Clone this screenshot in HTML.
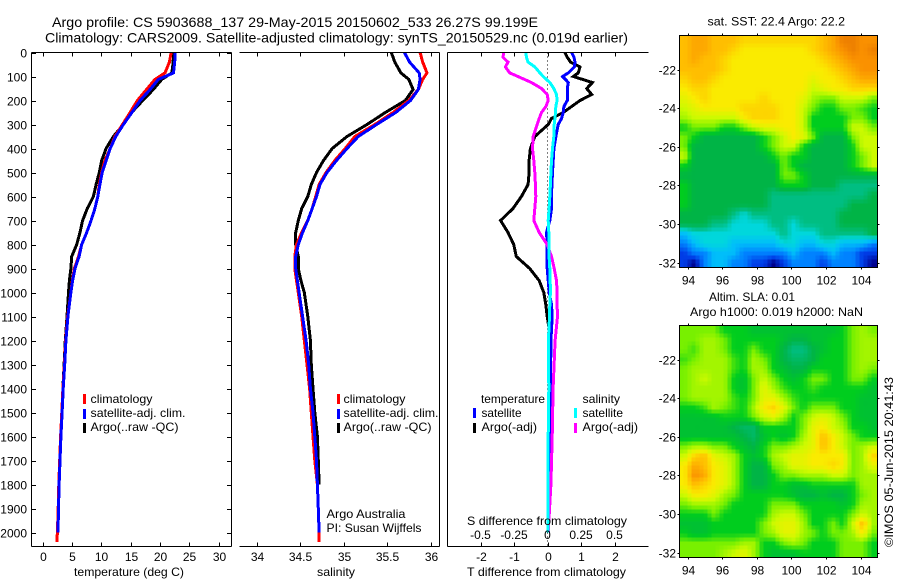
<!DOCTYPE html>
<html lang="en">
<head>
<meta charset="utf-8">
<title>Argo profile</title>
<style>
html,body{margin:0;padding:0;background:#fff;}
svg{display:block;}
text{font-family:"Liberation Sans",sans-serif;font-size:12px;fill:#000;}
.title{font-size:14px;}
</style>
</head>
<body>
<svg id="fig" xmlns="http://www.w3.org/2000/svg" width="900" height="580" viewBox="0 0 900 580">
<rect x="0" y="0" width="900" height="580" fill="#fff"/>
<g id="layer-maps"></g>
<g id="layer-plots"></g>
<text class="title" x="52" y="27" textLength="486" lengthAdjust="spacingAndGlyphs">Argo profile: CS 5903688_137 29-May-2015 20150602_533 26.27S 99.199E</text>
<text class="title" x="45" y="42.5" textLength="583" lengthAdjust="spacingAndGlyphs">Climatology: CARS2009. Satellite-adjusted climatology: synTS_20150529.nc (0.019d earlier)</text>
<text x="74" y="576" textLength="110" lengthAdjust="spacingAndGlyphs">temperature (deg C)</text>
<text x="317" y="576" textLength="38" lengthAdjust="spacingAndGlyphs">salinity</text>
<text x="467" y="576" textLength="159" lengthAdjust="spacingAndGlyphs">T difference from climatology</text>
<text x="467" y="525" textLength="160" lengthAdjust="spacingAndGlyphs">S difference from climatology</text>

<g>
<rect x="83" y="394" width="3" height="10" fill="#f00"/>
<rect x="83" y="409" width="3" height="10" fill="#00f"/>
<rect x="83" y="423" width="3" height="10" fill="#000"/>
<text x="90.5" y="403" textLength="62" lengthAdjust="spacingAndGlyphs">climatology</text>
<text x="90.5" y="417" textLength="95" lengthAdjust="spacingAndGlyphs">satellite-adj. clim.</text>
<text x="90.5" y="431" textLength="88" lengthAdjust="spacingAndGlyphs">Argo(..raw -QC)</text>
</g>
<g>
<rect x="337" y="394" width="3" height="10" fill="#f00"/>
<rect x="337" y="409" width="3" height="10" fill="#00f"/>
<rect x="337" y="423" width="3" height="10" fill="#000"/>
<text x="343.5" y="403" textLength="62" lengthAdjust="spacingAndGlyphs">climatology</text>
<text x="343.5" y="417" textLength="95" lengthAdjust="spacingAndGlyphs">satellite-adj. clim.</text>
<text x="343.5" y="431" textLength="88" lengthAdjust="spacingAndGlyphs">Argo(..raw -QC)</text>
</g>
<text x="326.5" y="518" textLength="79" lengthAdjust="spacingAndGlyphs">Argo Australia</text>
<text x="326.5" y="532" textLength="95" lengthAdjust="spacingAndGlyphs">PI: Susan Wijffels</text>

<g>
<text x="481" y="403" textLength="64" lengthAdjust="spacingAndGlyphs">temperature</text>
<text x="481.5" y="417" textLength="40" lengthAdjust="spacingAndGlyphs">satellite</text>
<text x="481.5" y="431" textLength="55.5" lengthAdjust="spacingAndGlyphs">Argo(-adj)</text>
<rect x="473" y="408" width="3" height="10" fill="#00f"/>
<rect x="473" y="423" width="3" height="10" fill="#000"/>
<text x="582.5" y="403" textLength="37.5" lengthAdjust="spacingAndGlyphs">salinity</text>
<text x="582.5" y="417" textLength="40.5" lengthAdjust="spacingAndGlyphs">satellite</text>
<text x="582.5" y="431" textLength="55.5" lengthAdjust="spacingAndGlyphs">Argo(-adj)</text>
<rect x="574" y="408" width="3" height="10" fill="#0ff"/>
<rect x="574" y="423" width="3" height="10" fill="#f0f"/>
</g>

<text x="707.5" y="25.5" textLength="137.5" lengthAdjust="spacingAndGlyphs">sat. SST: 22.4 Argo: 22.2</text>
<text x="709" y="301" textLength="86" lengthAdjust="spacingAndGlyphs">Altim. SLA: 0.01</text>
<text x="690" y="316" textLength="173" lengthAdjust="spacingAndGlyphs">Argo h1000: 0.019 h2000: NaN</text>
<text transform="translate(893,547) rotate(-90)" x="0" y="0" textLength="170" lengthAdjust="spacingAndGlyphs">©IMOS 05-Jun-2015 20:41:43</text>
</svg>

<script>
// ---------- profile data ----------
const profileDepths = [0,40,85,112,154,200,250,300,350,400,450,500,550,600,650,700,750,800,850,900,950,1000,1100,1200,1300,1400,1500,1600,1700,1800,1900,2000,2040];
const tempClimatology = [21.9,21.6,20.85,19.15,17.7,16.15,14.9,13.6,12.3,11.5,10.6,10.05,9.65,9.4,8.9,8.25,7.5,6.65,6.1,5.4,5.05,4.8,4.25,3.9,3.7,3.45,3.25,3.05,2.9,2.75,2.65,2.5,2.4];
const tempSatellite = [22.6,22.5,22.3,19.7,18.3,16.6,15.2,13.75,12.45,11.5,10.8,10.15,9.75,9.4,8.9,8.25,7.5,6.65,6.2,5.5,5.1,4.8,4.3,3.95,3.75,3.5,3.3,3.1,2.95,2.8,2.7,2.6];
const tempArgo = [22.3,22.25,22,20.3,18.85,17.05,15.15,13.75,12.05,10.8,10.05,9.65,9.1,8.65,7.6,6.8,6.35,5.8,4.95,4.8,4.55,4.4,4.15,3.85,3.65,3.45,3.25,3.05,2.9,2.75,2.65,2.55];
const salClimatology = [35.88,35.91,35.96,35.91,35.86,35.75,35.57,35.36,35.13,35.02,34.9,34.8,34.72,34.68,34.64,34.59,34.52,34.46,34.44,34.44,34.46,34.48,34.52,34.55,34.58,34.61,34.63,34.65,34.67,34.7,34.71,34.72,34.72];
const salSatellite = [35.7,35.76,35.87,35.88,35.86,35.77,35.6,35.38,35.17,35.04,34.92,34.81,34.73,34.69,34.64,34.59,34.53,34.48,34.45,34.45,34.47,34.49,34.53,34.57,34.6,34.62,34.65,34.67,34.69,34.7,34.71,34.72];
const salArgo = [35.55,35.59,35.66,35.75,35.8,35.71,35.48,35.27,35.04,34.87,34.77,34.69,34.63,34.59,34.52,34.48,34.45,34.45,34.48,34.48,34.51,34.55,34.59,34.62,34.63,34.65,34.67,34.7,34.71,34.72];

const diffDepths = [0,20,40,60,85,100,125,150,175,200,225,250,275,300,350,400,450,500,550,600,650,700,750,800,850,900,950,1000,1050,1100,1200,1400,1600,1800,2000];
const diffTempSatellite = [0.72,0.79,0.82,0.8,0.62,0.45,0.62,0.59,0.6,0.59,0.49,0.47,0.42,0.32,0.25,0.19,0.17,0.15,0.13,0.12,0.12,0.07,-0.03,-0.01,-0.01,-0.01,0.02,0.05,0.12,0.14,0.1,0.09,0.06,0.05,0.03];
const diffTempArgo = [0.52,0.59,0.69,0.97,0.92,0.77,1.34,1.17,1.32,0.97,0.72,0.47,0.12,0.02,-0.38,-0.51,-0.55,-0.55,-0.58,-0.78,-1.03,-1.4,-1.18,-1.01,-0.93,-0.53,-0.25,-0.11,-0.05,-0.01,0.1,0.08,0.07,0.05,0.03];
const diffSalSatellite = [-0.162,-0.157,-0.145,-0.095,-0.057,-0.032,0.017,0.047,0.067,0.072,0.062,0.06,0.055,0.05,0.047,0.037,0.03,0.025,0.022,0.017,0.012,0.005,0.01,0.012,0.012,0.017,0.02,0.022,0.017,0.015,0.007,0.01,0.005,0.005,0.003];
const diffSalArgo = [-0.327,-0.332,-0.295,-0.314,-0.282,-0.22,-0.12,-0.045,-0.002,0.005,-0.012,-0.045,-0.062,-0.077,-0.107,-0.112,-0.102,-0.095,-0.09,-0.087,-0.095,-0.102,-0.062,-0.002,0.03,0.05,0.067,0.072,0.072,0.075,0.057,0.042,0.035,0.025,0.005];

// ---------- tick labels ----------
const depthTicks = [0,100,200,300,400,500,600,700,800,900,1000,1100,1200,1300,1400,1500,1600,1700,1800,1900,2000];
const tempTicks = [0,5,10,15,20,25,30];
const salTicks = [34,34.5,35,35.5,36];
const diffTempTicks = [-2,-1,0,1,2];
const diffSalTicks = [-0.5,-0.25,0,0.25,0.5];
const lonTicks = [94,96,98,100,102,104];
const latTicks = [-22,-24,-26,-28,-30,-32];

// ---------- map data: colour level per grid cell, north to south, west to east ----------
const sstLevels = [
[11,11.5,11.5,11,11,11,10.5,10.5,10.5,10.5,10.5,10.5,10.5,10.5,11,11.5,12.5,12.5,12,12],
[11,11.5,11.5,11,11,10.5,10,10,10,10,10,10,10,10.5,11,11.5,12,12.5,12,12.5],
[11,11.5,11,11,10.5,10,10,10,10,10,10,10,10,10,10.5,11,11.5,12,12,12],
[11,11,11,11,10.5,10,10,10,10,10,10,10,10,10,10,10.5,11,11.5,12,12],
[10.5,11,11,10.5,10,10,10,10,10,10,10,10,10,9.5,10,10,10.5,11,11.5,11.5],
[10,10.5,10.5,10,10,10,10,10,10,10,10,10,10,9,9.5,10,10,10.5,10.5,10.5],
[9.5,10,10.5,10,10,10,10,10,10.5,10,10,10,9.5,8.5,8,8,9,9,9,8],
[9,9.5,10,10,10,10,10.5,10.5,10.5,10.5,10,10,9,8,7,7,8,8,7.5,7],
[8.5,9,9,9,9,9,10,10.5,10.5,10.5,10,10,9,7,7,7,7,8,8,7],
[7,8,8,8,7,7,8,9,9.5,9.5,10,10,9,7,7,7,7,9,9,8],
[8,7,6,6,6,6,6,6,7,8,9,10,9.5,8,6,6,6,8,9,9],
[8,6,6,6,6,6,6,6,7,8,9,9,7,6,6,6,6,7,9,9],
[9,6,6,6,6,6,6,6,6,7,8,7,7,6,6,6,6,7,8,9],
[7,6,6,6,6,6,6,6,6,6,8,7,6,6,6,6,6,7,8,9],
[6,6,6,6,6,6,6,6,6,6,8,8,7,6,6,6,6,6,6,6],
[7,6,6,6,6,6,6,6,6,6,7,7,7,6,6,6,5,5,5,5],
[7,6,6,6,6,6,6,6,6,5,5,5,5,5,5,5,5,5,5,6],
[7,6,6,6,6,6,6,6,6,5,5,5,5,5,5,5,5,6,6,6],
[6,6,6,6,6,5,4,5,5,5,5,5,5,5,5,5,6,6,6,6],
[6,6,6,5,5,4,4,4,4,5,5,4,5,5,5,5,6,6,6,6],
[3,4,4,4,4,4,4,4,4,4,5,4,4,4,5,5,5,5,5,6],
[2,3,4,4,4,3,3,3,3,3,4,4,3,3,4,4,3,3,3,2],
[1,2,2,3,3,3,2,2,2,2,2,3,2,2,2,3,2,2,1,1],
[1,0,2,3,3,2,2,1,1,0,1,2,2,2,1,2,2,2,1,0]
];
const slaLevels = [
[8,8,8,8,7,7,7,6.5,6.5,6.5,6.5,6.5,6.5,6.5,6.5,6.5,7,8,8.5,8],
[8,8,8.5,8.5,8,7,7,7,7,7,6.5,6,6,6.5,6.5,7,7,8,8.5,8.5],
[8,7.5,8.5,8.5,8,7,7,8,7,7,6,5,5,6,6.5,7,7,8,8.5,8.5],
[7.5,8,8.5,8.5,8.5,7.5,7,8.5,8,7,6,5.5,5.5,6,7,7,7,8,8.5,8.5],
[8,8.5,8.5,8.5,8.5,7.5,7,8.5,8.5,7,6.5,6,6,7,7,7,7,8,8.5,8],
[8,8.5,9,8.5,8.5,7,6.5,8,9,8,7,6.5,7,8,8,7,7,8,8,7],
[8,8.5,8.5,8.5,8.5,7,6.5,8,9.5,8.5,7.5,7,7,7.5,7,7,7,7,7,6.5],
[8,8.5,8.5,8.5,8.5,7.5,7,8,9.5,9.5,8.5,7.5,7,7,7,7,7,7,6.5,6.5],
[7,7,7.5,8.5,8,7.5,7,8.5,10,10.5,9.5,8,7,8,8,8,7,7,6.5,6.5],
[6.5,6.5,6.5,6.5,7,7,7,8,9,9.5,8.5,7,8,9,9.5,9,8,7,6.5,6.5],
[6.5,6.5,6.5,6.5,6.5,6,5.5,5.5,7,7,7,7,8,9.5,10,9,8.5,7,7,6.5],
[6.5,6.5,6.5,6.5,6.5,6.5,6,5.5,6.5,7,6.5,7,8.5,9.5,11,10,9,8,7,7],
[8,8.5,8.5,8,8,7,6.5,6,7,8,8,8.5,9,9.5,11,10,9,8,8.5,9],
[9,10.5,11,9.5,9,8.5,7,6.5,7,8.5,9,9.5,9.5,10,10,10,10,8,8.5,10.5],
[10,11.5,11,10,9.5,8.5,7,6,6,8,8.5,9.5,9.5,10,10,10.5,10,8,8.5,9.5],
[10,12,11.5,10,9.5,8.5,7,6,6,7,8,8,8.5,8.5,8.5,9,9,8,8.5,8.5],
[10,11,10.5,10,9.5,8.5,7,6,6,7,7,6.5,6.5,7,7,7,7,7,8.5,8.5],
[9,10,10,9.5,8.5,8,7,7,7,7,7,6.5,6,6,6.5,6,6,7,8,8.5],
[8,8.5,8.5,8.5,8,7,7,7,7,8,8,8,7,7,7,7,6.5,7,8.5,8.5],
[7,7,7,8,7,7,7,7,7,8.5,9,9,8,7,7,7,7,8,9,8.5],
[6.5,6.5,6.5,7,7,7,7,7,8,9,9.5,9.5,8.5,7,7,8,7,9,11,8.5],
[7,6.5,6.5,7,7,7,7,7,8,8.5,9.5,9.5,8.5,8,7,8,8,8.5,10,8],
[8,8,8,8,8,8,8.5,8.5,7,7,8,8.5,8,7,7,7,8,8,8,7],
[8,8,8,8,8.5,9,9.5,8.5,7,6.5,6.5,6.5,7,7,7,7,8,8,8,7]
];

// ---------- drawing ----------
const NS = 'http://www.w3.org/2000/svg';
const plots = document.getElementById('layer-plots');
const maps = document.getElementById('layer-maps');

function make(tag, attrs, parent) {
  const el = document.createElementNS(NS, tag);
  for (const k in attrs) el.setAttribute(k, attrs[k]);
  parent.appendChild(el);
  return el;
}
function line(parent, name, x1, y1, x2, y2) {
  const el = make('line', {x1, y1, x2, y2, stroke: '#000', 'stroke-width': 1, 'shape-rendering': 'crispEdges'}, parent);
  
  
  return el;
}
function label(parent, name, x, y, anchor, str) {
  const el = make('text', {x, y, 'text-anchor': anchor}, parent);
  
  
  el.textContent = str;
  return el;
}
function linear(d0, d1, r0, r1) {
  return v => r0 + (v - d0) * (r1 - r0) / (d1 - d0);
}
function curve(parent, name, depths, values, xf, yf, color, width) {
  const pts = values.map((v, i) => xf(v).toFixed(1) + ',' + yf(depths[i]).toFixed(1)).join(' ');
  const el = make('polyline', {points: pts, fill: 'none', stroke: color, 'stroke-width': width, 'stroke-linejoin': 'miter', 'shape-rendering': 'crispEdges'}, parent);
  
  
  return el;
}

const yDepth = linear(0, 2000, 52.5, 532.5);
const xTemp = linear(0, 30, 42.7, 218.7);
const xSal = linear(34, 36, 256.5, 430.5);
const xDiffT = linear(-2, 2, 480.5, 614.5);
const xDiffS = linear(-0.5, 0.5, 480.5, 614.5);
const TOP = 52.5, BOTTOM = 546.5;
const LINE_W = 3;

// panel 1: temperature
const p1 = make('g', {}, plots);


curve(p1, 'temperature-argo-line', profileDepths, tempArgo, xTemp, yDepth, '#000', LINE_W);
curve(p1, 'temperature-climatology-line', profileDepths, tempClimatology, xTemp, yDepth, '#f00', LINE_W);
curve(p1, 'temperature-satellite-line', profileDepths, tempSatellite, xTemp, yDepth, '#00f', LINE_W);
line(p1, 'temperature-left-axis', 31.5, TOP, 31.5, BOTTOM);
line(p1, 'temperature-right-axis', 231.5, TOP, 231.5, BOTTOM);
line(p1, 'temperature-top-axis', 31.5, TOP, 231.5, TOP);
line(p1, 'temperature-bottom-axis', 31.5, BOTTOM, 231.5, BOTTOM);
depthTicks.forEach(d => {
  const y = Math.round(yDepth(d)) + 0.5;
  line(p1, 'depth-tick', 31.5, y, 36, y);
  line(p1, 'depth-tick-right', 227, y, 231.5, y);
  label(p1, 'depth-tick-label', 27, y + 4, 'end', String(d));
});
tempTicks.forEach(t => {
  const x = Math.round(xTemp(t)) + 0.5;
  line(p1, 'temperature-top-tick', x, TOP, x, TOP + 4);
  line(p1, 'temperature-bottom-tick', x, BOTTOM, x, BOTTOM - 4);
  label(p1, 'temperature-tick-label', x, 561, 'middle', String(t));
});

// panel 2: salinity (open on the left, no depth ticks)
const p2 = make('g', {}, plots);


curve(p2, 'salinity-argo-line', profileDepths, salArgo, xSal, yDepth, '#000', LINE_W);
curve(p2, 'salinity-climatology-line', profileDepths, salClimatology, xSal, yDepth, '#f00', LINE_W);
curve(p2, 'salinity-satellite-line', profileDepths, salSatellite, xSal, yDepth, '#00f', LINE_W);
line(p2, 'salinity-right-axis', 439.5, TOP, 439.5, BOTTOM);
line(p2, 'salinity-top-axis', 239.5, TOP, 439.5, TOP);
line(p2, 'salinity-bottom-axis', 239.5, BOTTOM, 439.5, BOTTOM);
salTicks.forEach(s => {
  const x = Math.round(xSal(s)) + 0.5;
  line(p2, 'salinity-top-tick', x, TOP, x, TOP + 4);
  line(p2, 'salinity-bottom-tick', x, BOTTOM, x, BOTTOM - 4);
  label(p2, 'salinity-tick-label', x, 561, 'middle', String(s));
});

// panel 3: differences (open on the right, no depth ticks)
const p3 = make('g', {}, plots);


const zeroLine = make('line', {x1: xDiffT(0), y1: TOP, x2: xDiffT(0), y2: BOTTOM, stroke: '#000', 'stroke-width': 1, 'stroke-dasharray': '1 3', 'shape-rendering': 'crispEdges'}, p3);


curve(p3, 'difference-t-argo-line', diffDepths, diffTempArgo, xDiffT, yDepth, '#000', LINE_W);
curve(p3, 'difference-t-satellite-line', diffDepths, diffTempSatellite, xDiffT, yDepth, '#00f', LINE_W);
curve(p3, 'difference-s-argo-line', diffDepths, diffSalArgo, xDiffS, yDepth, '#f0f', LINE_W);
curve(p3, 'difference-s-satellite-line', diffDepths, diffSalSatellite, xDiffS, yDepth, '#0ff', LINE_W);
line(p3, 'difference-left-axis', 447.5, TOP, 447.5, BOTTOM);
line(p3, 'difference-top-axis', 447.5, TOP, 648.5, TOP);
line(p3, 'difference-bottom-axis', 447.5, BOTTOM, 648.5, BOTTOM);
diffTempTicks.forEach(t => {
  const x = Math.round(xDiffT(t)) + 0.5;
  line(p3, 'difference-top-tick', x, TOP, x, TOP + 4);
  line(p3, 'difference-bottom-tick', x, BOTTOM, x, BOTTOM - 4);
  label(p3, 'difference-t-tick-label', x, 561, 'middle', String(t));
});
diffSalTicks.forEach(s => {
  label(p3, 'difference-s-tick-label', xDiffS(s), 539, 'middle', String(s));
});

// maps
const colorStops = [[0,0,140],[0,60,230],[0,130,255],[0,190,250],[0,215,220],[0,190,130],[0,180,70],[0,205,30],[120,240,0],[205,250,0],[250,235,0],[255,190,0],[250,145,0],[225,110,0]];
function levelColor(v) {
  const c = Math.max(0, Math.min(colorStops.length - 1, v));
  const i = Math.min(colorStops.length - 2, Math.floor(c));
  const f = c - i;
  const mix = k => Math.round(colorStops[i][k] + (colorStops[i + 1][k] - colorStops[i][k]) * f);
  return 'rgb(' + mix(0) + ',' + mix(1) + ',' + mix(2) + ')';
}
function sample(levels, r, c) {
  const rows = levels.length, cols = levels[0].length;
  const rr = Math.max(0, Math.min(rows - 1, r)), cc = Math.max(0, Math.min(cols - 1, c));
  const r0 = Math.min(rows - 2, Math.floor(rr)), c0 = Math.min(cols - 2, Math.floor(cc));
  const fr = rr - r0, fc = cc - c0;
  return levels[r0][c0] * (1 - fr) * (1 - fc) + levels[r0][c0 + 1] * (1 - fr) * fc +
         levels[r0 + 1][c0] * fr * (1 - fc) + levels[r0 + 1][c0 + 1] * fr * fc;
}
function drawMap(prefix, levels, top, latRef) {
  const bottom = top + 232;
  const xLon = linear(94, 104, 687.5, 860.5);
  const yLat = linear(-22, -32, latRef, latRef + 193);
  const left = 679.5, right = 877.5;
  const g = make('g', {}, maps);
  
  
  const step = 4;
  const rows = levels.length, cols = levels[0].length;
  for (let py = top; py < bottom; py += step) {
    for (let px = left; px < right; px += step) {
      const r = (py + step / 2 - top) / (bottom - top) * rows - 0.5;
      const c = (px + step / 2 - left) / (right - left) * cols - 0.5;
      const cell = make('rect', {
        x: px, y: py,
        width: Math.min(step, right - px), height: Math.min(step, bottom - py),
        fill: levelColor(sample(levels, r, c)), 'shape-rendering': 'crispEdges'
      }, g);
      
      
    }
  }
  const frame = make('rect', {x: left, y: top, width: right - left, height: bottom - top, fill: 'none', stroke: '#000', 'stroke-width': 1, 'shape-rendering': 'crispEdges'}, g);
  
  
  lonTicks.forEach(l => {
    const x = Math.round(xLon(l)) + 0.5;
    line(g, prefix + '-lon-tick-top', x, top, x, top - 2);
    line(g, prefix + '-lon-tick-bottom', x, bottom, x, bottom + 2);
    label(g, prefix + '-lon-tick-label', x, bottom + 17, 'middle', String(l));
  });
  latTicks.forEach(l => {
    const y = Math.round(yLat(l)) + 0.5;
    line(g, prefix + '-lat-tick-left', left, y, left - 2, y);
    line(g, prefix + '-lat-tick-right', right, y, right + 2, y);
    label(g, prefix + '-lat-tick-label', 676, y + 4, 'end', String(l));
  });
}
drawMap('sst', sstLevels, 35.5, 69.5);
drawMap('sla', slaLevels, 325.5, 359.5);
</script>
</body>
</html>
